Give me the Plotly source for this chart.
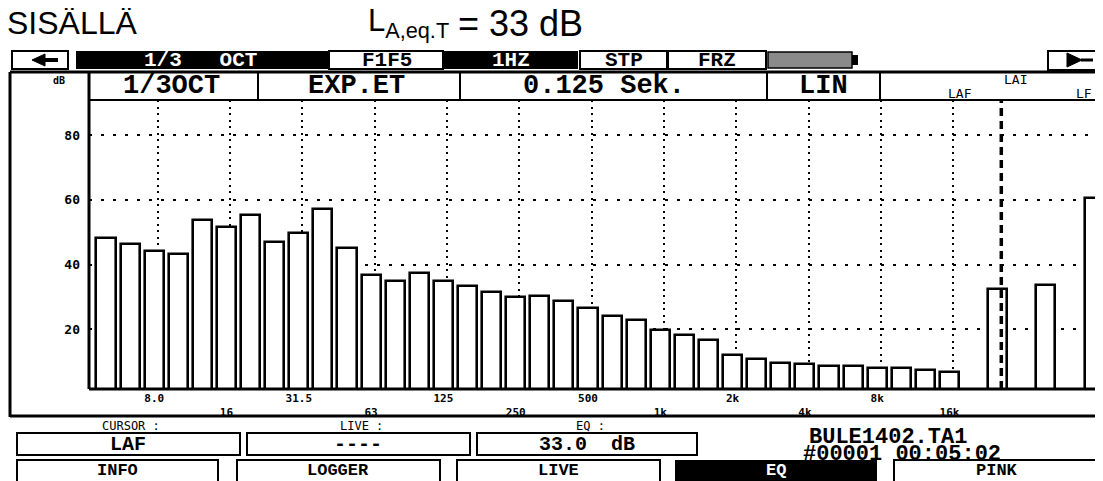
import plotly.graph_objects as go

# the page body adds an 8px margin, so the figure is drawn 8px in from the window edge
OFF = 8
W, H = 1103 - OFF, 481 - OFF

# ---------------- data ----------------
bands = ["5", "6.3", "8.0", "10", "12.5", "16", "20", "25", "31.5", "40", "50", "63",
         "80", "100", "125", "160", "200", "250", "315", "400", "500", "630", "800", "1k",
         "1.25k", "1.6k", "2k", "2.5k", "3.15k", "4k", "5k", "6.3k", "8k", "10k", "12.5k", "16k"]
band_levels = [48.1, 46.3, 44.2, 43.1, 53.8, 51.6, 55.4, 46.9, 49.6, 57.2, 45.2, 36.8,
               35.0, 37.4, 35.0, 33.3, 31.6, 29.9, 30.4, 28.8, 26.6, 24.2, 22.8, 19.8,
               18.2, 16.6, 12.0, 10.9, 9.7, 9.2, 8.6, 8.6, 8.0, 8.0, 7.3, 6.8]
summary_names = ["LAF", "LAI", "LF"]
summary_levels = [32.4, 33.6, 60.6]
labels_upper = ["8.0", "31.5", "125", "500", "2k", "8k"]
labels_lower = ["16", "63", "250", "1k", "4k", "16k"]
y_ticks = [20, 40, 60, 80]
cursor_name = "LAF"

# ---------------- positions (index scale) ----------------
band_x = list(range(len(bands)))
summary_x = [len(bands) + 1 + 2 * k for k in range(len(summary_names))]
all_x = band_x + summary_x
all_y = band_levels + summary_levels
all_names = bands + summary_names

tick_pos = [bands.index(s) for s in labels_upper] + [bands.index(s) for s in labels_lower]
tick_txt = labels_upper + ["<br>" + s for s in labels_lower]
grid_pos = sorted(p + 0.15 for p in tick_pos)
cursor_x = summary_x[summary_names.index(cursor_name)] + 0.15

# plot area in window pixels
PX0, PX1, PY0, PY1 = 89, 1103, 100, 389
x_range = [-0.705, 41.37]
y_range = [1.56, 90.8]


def fx(x):
    return (x - OFF) / W


def fy(y):
    return 1 - (y - OFF) / H


fig = go.Figure()
fig.add_trace(go.Bar(
    x=all_x, y=all_y, width=0.79, customdata=all_names,
    marker=dict(color="white", line=dict(color="black", width=2.6)),
    hovertemplate="%{customdata}: %{y} dB<extra></extra>",
))

MONO = "DejaVu Sans Mono"
SERIF = "Liberation Mono"

shapes = []
annotations = []


def rect(x0, y0, x1, y1, fill="white", line="black", lw=2):
    shapes.append(dict(type="rect", xref="paper", yref="paper",
                       x0=fx(x0), x1=fx(x1), y0=fy(y1), y1=fy(y0),
                       fillcolor=fill, line=dict(color=line, width=lw)))


def hline(x0, x1, y, lw=2):
    shapes.append(dict(type="line", xref="paper", yref="paper",
                       x0=fx(x0), x1=fx(x1), y0=fy(y), y1=fy(y),
                       line=dict(color="black", width=lw)))


def vline(x, y0, y1, lw=2):
    shapes.append(dict(type="line", xref="paper", yref="paper",
                       x0=fx(x), x1=fx(x), y0=fy(y0), y1=fy(y1),
                       line=dict(color="black", width=lw)))


def poly(pts, fill="black"):
    d = "M " + " L ".join(f"{fx(a):.5f},{fy(b):.5f}" for a, b in pts) + " Z"
    shapes.append(dict(type="path", xref="paper", yref="paper", path=d,
                       fillcolor=fill, line=dict(color=fill, width=1)))


def txt(x, y, s, size, family=SERIF, color="black", weight="bold", xanchor="center",
        yanchor="middle"):
    annotations.append(dict(text=s, x=fx(x), y=fy(y), xref="paper", yref="paper",
                            xanchor=xanchor, yanchor=yanchor, showarrow=False,
                            borderpad=0,
                            font=dict(family=family, size=size, color=color,
                                      weight=weight)))


# ---------- title ----------
txt(6, 23, "SISÄLLÄ", 32, family="Liberation Sans", weight="normal", xanchor="left")
txt(367, 23, "L<sub>A,eq.T</sub>", 31, family="Liberation Sans", weight="normal",
    xanchor="left")
txt(457, 23, "= 33 dB", 36, family="Liberation Sans", weight="normal", xanchor="left")

# ---------- top tool bar ----------
rect(12, 51, 68, 69)
poly([(32, 60), (45, 54), (45, 66)])
rect(45, 58, 58, 62, fill="black", lw=0)
rect(76, 51, 328, 69, fill="black", lw=0)
txt(200, 60, "1/3   OCT", 21, color="white")
rect(329, 51, 443, 69)
txt(387, 60, "F1F5", 21)
rect(443, 51, 578, 69, fill="black", lw=0)
txt(511, 60, "1HZ", 21, color="white")
rect(580, 51, 667, 69)
txt(624, 60, "STP", 21)
rect(668, 51, 766, 69)
txt(717, 60, "FRZ", 21)
rect(768, 52, 852, 68, fill="#8a8a8a", lw=1.5)
rect(852, 55, 858, 65, fill="black", lw=0)
rect(1048, 51, 1100, 70)
poly([(1067, 53), (1067, 67), (1082, 60)])
rect(1081, 58.5, 1093, 61.5, fill="black", lw=0)

# ---------- frame & header row ----------
hline(10, 1103, 72, lw=3)
vline(10, 72, 417, lw=3)
hline(10, 1103, 416, lw=3)
hline(88, 1103, 100, lw=2)
for xs in [258, 460, 767, 880]:
    vline(xs, 72, 100, lw=2)
vline(89, 72, 389, lw=3)
hline(89, 1103, 389, lw=3)
txt(59, 81, "dB", 10, family=MONO)
txt(172, 86, "1/3OCT", 27)
txt(356, 86, "EXP.ET", 27)
txt(604, 86, "0.125 Sek.", 27)
txt(823, 86, "LIN", 27)
txt(960, 93, "LAF", 13, family=MONO, weight="normal")
txt(1015, 80, "LAI", 13, family=MONO, weight="normal")
txt(1084, 93, "LF", 13, family=MONO, weight="normal")

# ---------- cursor ----------
shapes.append(dict(type="line", xref="x", yref="paper", x0=cursor_x, x1=cursor_x,
                   y0=fy(PY1), y1=fy(PY0),
                   line=dict(color="black", width=3.5, dash="8px,5px")))

# ---------- bottom panel ----------
txt(131, 426, "CURSOR :", 12, family=MONO, weight="normal")
txt(361, 426, "LIVE :", 12, family=MONO, weight="normal")
txt(590, 426, "EQ :", 12, family=MONO, weight="normal")
rect(17, 433, 240, 455)
txt(128, 444, "LAF", 20)
rect(247, 433, 470, 455)
txt(358, 444, "----", 20)
rect(477, 433, 697, 455)
txt(587, 444, "33.0  dB", 20)
txt(888, 437, "BULE1402.TA1", 22)
txt(902, 454, "#00001 00:05:02", 22)
rect(17, 460, 218, 490)
rect(237, 460, 440, 490)
rect(457, 460, 660, 490)
rect(675, 460, 877, 490, fill="black", lw=0)
rect(894, 460, 1110, 490)
for cx, label, col in [(117, "INFO", "black"), (338, "LOGGER", "black"),
                       (558, "LIVE", "black"), (776, "EQ", "white"), (997, "PINK", "black")]:
    txt(cx, 470.5, label, 17, color=col)

fig.update_layout(
    width=W, height=H,
    margin=dict(l=0, r=0, t=0, b=0),
    paper_bgcolor="white", plot_bgcolor="white",
    showlegend=False, bargap=0,
    shapes=shapes, annotations=annotations,
    xaxis=dict(domain=[fx(PX0), fx(PX1)], range=x_range, showgrid=False, zeroline=False,
               tickvals=tick_pos, ticktext=tick_txt, ticks="", showline=False,
               tickfont=dict(family=MONO, size=11, color="black", weight="bold"),
               ticklabelstandoff=1),
    xaxis2=dict(overlaying="x", anchor="y", range=x_range, tickvals=grid_pos,
                showticklabels=False, ticks="", showgrid=True, gridcolor="black",
                gridwidth=2, griddash="2px,4.5px", zeroline=False, side="bottom"),
    yaxis=dict(domain=[fy(PY1), fy(PY0)], range=y_range, tickvals=y_ticks,
               showgrid=True, gridcolor="black", gridwidth=2, griddash="2.5px,9.5px",
               zeroline=False, ticks="", showline=False,
               tickfont=dict(family=MONO, size=13, color="black", weight="bold"),
               ticklabelstandoff=8),
)
# invisible trace on xaxis2 so the overlay grid is drawn
fig.add_trace(go.Scatter(x=[x_range[0]], y=[y_range[0]], xaxis="x2", mode="markers",
                         marker=dict(opacity=0), hoverinfo="skip"))

fig.write_html("out.html")
